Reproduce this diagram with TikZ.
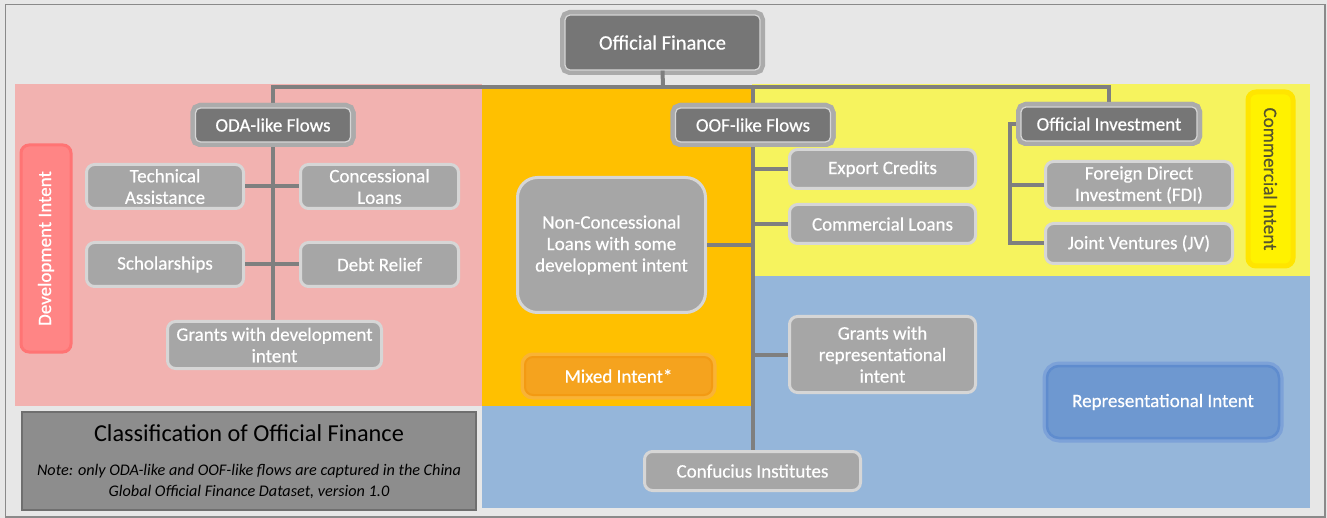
\documentclass[tikz,border=0pt]{standalone}
\usepackage{fontspec}
\setmainfont{Carlito}
\newfontfamily\boxfont[FakeBold=0.5]{Carlito}
\definecolor{bgc}{HTML}{E7E7E7}
\definecolor{framec}{HTML}{8A8A8A}
\definecolor{pinkc}{HTML}{F2B2B0}
\definecolor{orangec}{HTML}{FFC000}
\definecolor{yellowc}{HTML}{F6F35E}
\definecolor{bluec}{HTML}{95B6DA}
\definecolor{linec}{HTML}{7F7F7F}
\definecolor{leafc}{HTML}{A6A6A6}
\definecolor{leafb}{HTML}{D6D6D6}
\definecolor{topc}{HTML}{767676}
\definecolor{toph}{HTML}{ABABAB}
\definecolor{classc}{HTML}{8D8D8D}
\definecolor{classb}{HTML}{6F6F6F}
\definecolor{devc}{HTML}{FF8585}
\definecolor{devb}{HTML}{FF7474}
\definecolor{mixc}{HTML}{F5A31E}
\definecolor{mixb}{HTML}{F39A12}
\definecolor{mixh}{HTML}{F9B335}
\definecolor{comc}{HTML}{FFF200}
\definecolor{comb}{HTML}{FFE500}
\definecolor{comt}{HTML}{55552E}
\definecolor{repc}{HTML}{6E98D0}
\definecolor{repb}{HTML}{5F8CCE}
\definecolor{reph}{HTML}{7DA2D8}
\tikzset{
  leaf/.style={rectangle, rounded corners=8pt, fill=leafc, draw=leafb, line width=3pt,
    text=white, font=\boxfont\fontsize{19}{21.5}\selectfont, align=center, inner sep=0pt},
  topnode/.style={rectangle, rounded corners=5pt, fill=topc, draw=leafb, line width=1.2pt,
    text=white, align=center, inner sep=0pt, font=\boxfont\fontsize{19}{21.5}\selectfont,
    preaction={draw=toph, line width=10pt, rounded corners=8pt}},
  conn/.style={draw=linec, line width=4pt},
  intentbox/.style={rectangle, rounded corners=8pt, align=center, inner sep=0pt,
    font=\boxfont\fontsize{19}{21.5}\selectfont},
}
\begin{document}
\begin{tikzpicture}[x=1pt,y=-1pt]
\useasboundingbox (0,0) rectangle (1327,518);
% background and frame
\fill[bgc] (0,0) rectangle (1327,518);
\draw[framec, line width=1.5pt] (5.5,4.5) rectangle (1325,517);
% regions
\fill[pinkc] (15,84) rectangle (482,406);
\fill[orangec] (482,88) rectangle (752,406);
\fill[yellowc] (752,84) rectangle (1310,276);
\fill[bluec] (752,276) rectangle (1310,508);
\fill[bluec] (482,406) rectangle (752,508);
% classification box
\node[rectangle, fill=classc, draw=classb, line width=1.5pt, minimum width=454pt, minimum height=98pt, inner sep=0pt] (cls) at (249,461) {};
\node[font=\fontsize{24.3}{28}\selectfont, text=black, inner sep=0pt] (clst) at (249,433) {Classification of Official Finance};
\node[font=\itshape\fontsize{16.2}{21}\selectfont, text=black, align=center, inner sep=0pt] (clsn) at (249,481.5) {Note: only ODA-like and OOF-like flows are captured in the China\\Global Official Finance Dataset, version 1.0};
% intent labels
\node[intentbox, fill=devc, draw=devb, line width=3pt, text=white, minimum width=207pt, minimum height=50pt, rotate=90] (dev) at (46,248.5) {Development Intent};
\node[intentbox, fill=comc, draw=comb, line width=5pt, text=comt, minimum width=174pt, minimum height=45pt, rotate=-90] (com) at (1270.5,179) {Commercial Intent};
\node[intentbox, fill=mixc, draw=mixb, line width=2pt, text=white, minimum width=187pt, minimum height=38pt,
  preaction={draw=mixh, line width=9pt, rounded corners=10pt}] (mix) at (618.5,376) {Mixed Intent*};
\node[intentbox, rounded corners=12pt, fill=repc, draw=repb, line width=2.5pt, text=white, minimum width=232pt, minimum height=72pt,
  preaction={draw=reph, line width=9pt, rounded corners=14pt}] (rep) at (1163,402) {Representational Intent};
% top nodes
\node[topnode, font=\boxfont\fontsize{20.5}{23}\selectfont, minimum width=195pt, minimum height=55pt] (of) at (662.5,42.5) {Official Finance};
\node[topnode, minimum width=155pt, minimum height=34pt] (oda) at (273,125) {ODA-like Flows};
\node[topnode, minimum width=155pt, minimum height=34pt] (oof) at (753,125) {OOF-like Flows};
\node[topnode, minimum width=176pt, minimum height=34pt] (oi) at (1109,124) {Official Investment};
% leaves ODA
\node[leaf, minimum width=157pt, minimum height=44pt] (ta) at (165,186.5) {Technical\\Assistance};
\node[leaf, minimum width=158pt, minimum height=44pt] (cl) at (379.5,186.5) {Concessional\\Loans};
\node[leaf, minimum width=157pt, minimum height=44pt] (sch) at (165,264.5) {Scholarships};
\node[leaf, minimum width=158pt, minimum height=44pt] (dr) at (379.5,264.5) {Debt Relief};
\node[leaf, minimum width=214pt, minimum height=47pt] (gdi) at (274.5,345) {Grants with development\\intent};
% leaves OOF
\node[leaf, minimum width=186pt, minimum height=39pt] (ec) at (882.5,169) {Export Credits};
\node[leaf, minimum width=186pt, minimum height=39pt] (coml) at (882.5,224) {Commercial Loans};
\node[leaf, rounded corners=20pt, minimum width=188pt, minimum height=135pt] (nc) at (611.5,245) {Non-Concessional\\Loans with some\\development intent};
\node[leaf, minimum width=186pt, minimum height=76pt] (gri) at (882.5,354.5) {Grants with\\representational\\intent};
\node[leaf, minimum width=216pt, minimum height=39pt] (conf) at (752.5,471) {Confucius Institutes};
% leaves OI
\node[leaf, minimum width=187pt, minimum height=47pt] (fdi) at (1139,185) {Foreign Direct\\Investment (FDI)};
\node[leaf, minimum width=187pt, minimum height=40pt] (jv) at (1139,243.5) {Joint Ventures (JV)};
% connectors
\coordinate (bus) at (663,87);
\draw[conn] (of.south) -- (bus);
\draw[conn, line cap=rect] (oda.north) -- (oda.north |- bus) -- (oi.north |- bus) -- (oi.north);
\draw[conn] (oof.north |- bus) -- (oof.north);
\draw[conn] (oda.south) -- (gdi.north -| oda.south);
\draw[conn] (ta.east) -- (cl.west);
\draw[conn] (sch.east) -- (dr.west);
\draw[conn] (oof.south) -- (conf.north -| oof.south);
\draw[conn] (ec.west) -- (ec.west -| oof.south);
\draw[conn] (coml.west) -- (coml.west -| oof.south);
\draw[conn] (nc.east) -- (nc.east -| oof.south);
\draw[conn] (gri.west) -- (gri.west -| oof.south);
\coordinate (oib) at (1010,124);
\draw[conn] (oi.west) -- (oib) |- (jv.west);
\draw[conn] (fdi.west) -- (fdi.west -| oib);
% redraw nodes on top of connectors
\node[topnode, minimum width=155pt, minimum height=34pt] at (oda) {ODA-like Flows};
\node[topnode, minimum width=155pt, minimum height=34pt] at (oof) {OOF-like Flows};
\node[topnode, minimum width=176pt, minimum height=34pt] at (oi) {Official Investment};
\end{tikzpicture}
\end{document}
